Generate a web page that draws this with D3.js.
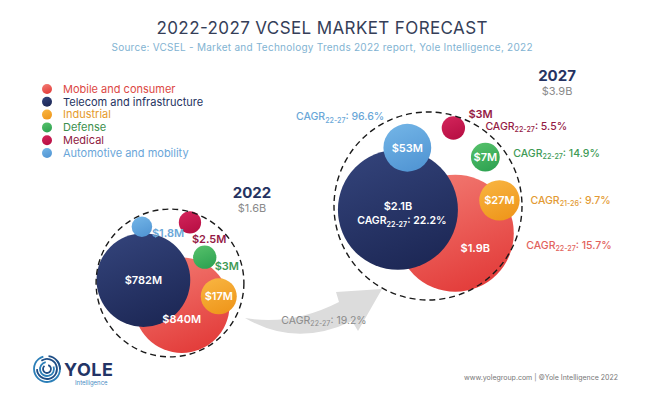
<!DOCTYPE html>
<html>
<head>
<meta charset="utf-8">
<script src="https://cdn.jsdelivr.net/npm/d3@7"></script>
<style>
  body { margin: 0; background: #fff; }
  svg { display: block; font-family: Inter, "Open Sans", sans-serif; }
</style>
</head>
<body>
<svg id="chart" width="659" height="395"></svg>
<script>
// ---- data ----
var segments = ["Mobile and consumer", "Telecom and infrastructure", "Industrial", "Defense", "Medical", "Automotive and mobility"];
var years = ["2022", "2027"];
var totals = [1600, 3900];
var totalLabels = ["$1.6B", "$3.9B"];
var values2022 = [840, 782, 17, 3, 2.5, 1.8];
var values2027 = [1900, 2100, 27, 7, 3, 53];
var labels2022 = ["$840M", "$782M", "$17M", "$3M", "$2.5M", "$1.8M"];
var labels2027 = ["$1.9B", "$2.1B", "$27M", "$7M", "$3M", "$53M"];
var cagrPeriods = ["22-27", "22-27", "21-26", "22-27", "22-27", "22-27"];
var cagrValues = ["15.7%", "22.2%", "9.7%", "14.9%", "5.5%", "96.6%"];
var overallPeriod = "22-27";
var overallCagr = "19.2%";

// ---- styles ----
var fills = [["#f27a72", "#e33d3b"], ["#33437a", "#1d2856"], ["#f8b440", "#ef971c"], ["#55c06a", "#2fa352"], ["#d2245a", "#b80f44"], ["#72b4e6", "#5296d4"]];
var textColors = ["#dc4844", "#253361", "#e59a2c", "#3b8f4c", "#8f1a42", "#6aa6d9"];
var labelColors = ["#e2625c", "#253361", "#e39a33", "#3e9a55", "#951a45", "#6aa7d8"];

// bubble placement inside each group, as a share of the group radius
var place2022 = [
  {dx: 0.16, dy: 0.30, lx: 0, ly: 14, anchor: "middle", inside: true},
  {dx: -0.36, dy: -0.04, lx: 0, ly: 0, anchor: "middle", inside: true},
  {dx: 0.66, dy: 0.18, lx: 0, ly: 0, anchor: "middle", inside: true},
  {dx: 0.47, dy: -0.35, lx: 10, ly: 9, anchor: "start", inside: false},
  {dx: 0.27, dy: -0.82, lx: 2, ly: 17, anchor: "start", inside: false},
  {dx: -0.38, dy: -0.76, lx: 10, ly: 6, anchor: "start", inside: false}
];
var place2027 = [
  {dx: 0.29, dy: 0.29, lx: 20, ly: 15, anchor: "middle", inside: true, cx: 71, cy: 12, canchor: "start"},
  {dx: -0.32, dy: 0.04, lx: 0, ly: -4, anchor: "middle", inside: true, cx: 4, cy: 11, canchor: "middle", cin: true},
  {dx: 0.76, dy: -0.06, lx: 0, ly: 0, anchor: "middle", inside: true, cx: 31, cy: 0, canchor: "start"},
  {dx: 0.61, dy: -0.52, lx: 0, ly: 0, anchor: "middle", inside: true, cx: 28, cy: -4, canchor: "start"},
  {dx: 0.27, dy: -0.83, lx: 15, ly: -14, anchor: "start", inside: false, cx: 32, cy: -2, canchor: "start"},
  {dx: -0.22, dy: -0.62, lx: 0, ly: 0, anchor: "middle", inside: true, cx: -23, cy: -31, canchor: "end"}
];

var svg = d3.select("#chart");

// scales: bubble radius from value, group radius from total
var rScale = d3.scalePow().exponent(0.25).domain([0, 2100]).range([0, 60]);
var groupScale = d3.scalePow().exponent(0.27).domain([0, 3900]).range([0, 94]);
var xGroup = d3.scaleOrdinal().domain(years).range([170, 428]);
var yGroup = d3.scaleOrdinal().domain(years).range([283, 206]);

// gradients
var defs = svg.append("defs");
fills.forEach((f, i) => {
  var g = defs.append("linearGradient").attr("id", "grad" + i)
    .attr("x1", 0.2).attr("y1", 0).attr("x2", 0.6).attr("y2", 1);
  g.append("stop").attr("offset", "0%").attr("stop-color", f[0]);
  g.append("stop").attr("offset", "100%").attr("stop-color", f[1]);
});

// title
svg.append("text").attr("x", 322).attr("y", 34).attr("text-anchor", "middle")
  .attr("font-size", 17).attr("fill", "#353e58").attr("textLength", 331).attr("lengthAdjust", "spacing")
  .text("2022-2027 VCSEL MARKET FORECAST");
svg.append("text").attr("x", 322).attr("y", 51).attr("text-anchor", "middle")
  .attr("font-size", 10).attr("fill", "#82b3d2").attr("textLength", 421).attr("lengthAdjust", "spacing")
  .text("Source: VCSEL - Market and Technology Trends 2022 report, Yole Intelligence, 2022");

// legend
var legend = svg.append("g").selectAll("g").data(segments).enter().append("g")
  .attr("transform", (d, i) => "translate(47," + (89 + i * 12.8) + ")");
legend.append("circle").attr("r", 5).attr("fill", (d, i) => "url(#grad" + i + ")");
legend.append("text").attr("x", 16).attr("dy", "0.35em").attr("font-size", 11)
  .attr("fill", (d, i) => textColors[i]).text(d => d);

function cagrText(sel, period, value, size) {
  sel.append("tspan").text("CAGR");
  sel.append("tspan").attr("font-size", size * 0.68).attr("dy", size * 0.22).text(period);
  sel.append("tspan").attr("dy", -size * 0.22).text(": " + value);
}

// arrow between groups
var a0 = [245, 318];
var arrowPath = d3.path();
arrowPath.moveTo(a0[0], a0[1]);
arrowPath.quadraticCurveTo(292, 326, 339, 302);
arrowPath.lineTo(336, 292);
arrowPath.lineTo(382, 289);
arrowPath.lineTo(358, 331);
arrowPath.lineTo(352, 321);
arrowPath.quadraticCurveTo(296, 348, a0[0], a0[1]);
arrowPath.closePath();
svg.append("path").attr("d", arrowPath.toString()).attr("fill", "#dcdcdc");
var at = svg.append("text").attr("x", 324).attr("y", 324).attr("text-anchor", "middle")
  .attr("font-size", 10.5).attr("fill", "#8b8b8b");
cagrText(at, overallPeriod, overallCagr, 10.5);

// bubble groups
function drawGroup(year, total, totalLabel, values, labels, place, withCagr) {
  var cx = xGroup(year), cy = yGroup(year), R = groupScale(total);
  var g = svg.append("g");
  var order = [0, 1, 2, 3, 4, 5];
  var nodes = order.map(i => ({
    i: i,
    x: cx + place[i].dx * R,
    y: cy + place[i].dy * R,
    r: rScale(values[i])
  }));
  g.selectAll("circle.bubble").data(nodes).enter().append("circle")
    .attr("class", "bubble")
    .attr("cx", d => d.x).attr("cy", d => d.y).attr("r", d => d.r)
    .attr("fill", d => "url(#grad" + d.i + ")");
  g.append("circle").attr("cx", cx).attr("cy", cy).attr("r", R)
    .attr("fill", "none").attr("stroke", "#1a1a1a").attr("stroke-width", 1.4)
    .attr("stroke-dasharray", "6,4");

  g.selectAll("text.val").data(nodes).enter().append("text")
    .attr("class", "val")
    .attr("x", d => d.x + place[d.i].lx).attr("y", d => d.y + place[d.i].ly)
    .attr("dy", "0.35em").attr("text-anchor", d => place[d.i].anchor)
    .attr("font-size", 11).attr("font-weight", 600)
    .attr("fill", d => place[d.i].inside ? "#fff" : labelColors[d.i])
    .text(d => labels[d.i]);

  if (withCagr) {
    nodes.forEach(d => {
      var p = place[d.i];
      var t = g.append("text").attr("x", d.x + p.cx).attr("y", d.y + p.cy)
        .attr("dy", "0.35em").attr("text-anchor", p.canchor).attr("font-size", 10.5)
        .attr("font-weight", p.cin ? 600 : 500)
        .attr("fill", p.cin ? "#fff" : labelColors[d.i]);
      cagrText(t, cagrPeriods[d.i], cagrValues[d.i], 10.5);
    });
  }
  return {cx: cx, cy: cy, R: R};
}

drawGroup("2022", totals[0], totalLabels[0], values2022, labels2022, place2022, false);
drawGroup("2027", totals[1], totalLabels[1], values2027, labels2027, place2027, true);

// year headers
var headers = [[252, 193], [557, 76]];
years.forEach((y, i) => {
  svg.append("text").attr("x", headers[i][0]).attr("y", headers[i][1]).attr("dy", "0.35em")
    .attr("text-anchor", "middle").attr("font-size", 15).attr("font-weight", 700)
    .attr("fill", "#253361").text(y);
  svg.append("text").attr("x", headers[i][0]).attr("y", headers[i][1] + 15).attr("dy", "0.35em")
    .attr("text-anchor", "middle").attr("font-size", 11).attr("fill", "#8a8a8a").text(totalLabels[i]);
});

// logo
var logo = svg.append("g").attr("transform", "translate(47,369)");
var rings = [[4, 0.3, 5.6], [7, 1.2, 6.1], [10, -0.6, 4.7], [13, 0.9, 6.0], [13, 6.4, 7.9]];
rings.forEach((r, i) => {
  logo.append("path")
    .attr("d", d3.arc()({innerRadius: r[0] - 0.9, outerRadius: r[0] + 0.9, startAngle: r[1], endAngle: r[2]}))
    .attr("fill", i % 2 ? "#2c7fb8" : "#1f4e86");
});
svg.append("text").attr("x", 64).attr("y", 376).attr("font-size", 18).attr("font-weight", 700)
  .attr("fill", "#233466").attr("letter-spacing", 0.5).text("YOLE");
svg.append("text").attr("x", 75).attr("y", 385).attr("font-size", 6).attr("fill", "#4a8cc4").text("Intelligence");

// footer
svg.append("text").attr("x", 464).attr("y", 380).attr("font-size", 7).attr("fill", "#777")
  .text("www.yolegroup.com | \u00A9Yole Intelligence 2022");
</script>
</body>
</html>
